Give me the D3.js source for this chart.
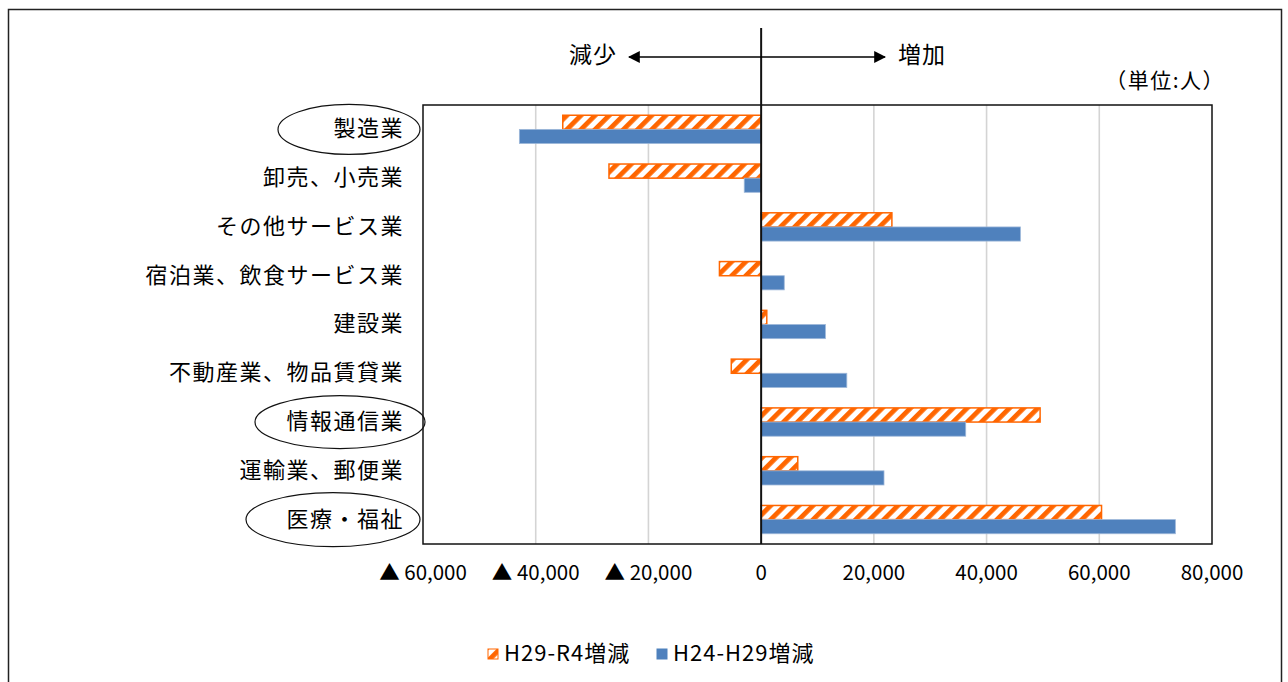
<!DOCTYPE html>
<html>
<head>
<meta charset="utf-8">
<script src="https://cdn.jsdelivr.net/npm/d3@7"></script>
<style>
  html, body { margin: 0; padding: 0; background: #fff; }
  svg { display: block; }
  text { font-family: "Noto Sans CJK JP", "Noto Sans", sans-serif; fill: #000; }
</style>
</head>
<body>
<svg id="chart" width="1288" height="682"></svg>
<script>
// Industries (top to bottom)
const categories = [
  "製造業",
  "卸売、小売業",
  "その他サービス業",
  "宿泊業、飲食サービス業",
  "建設業",
  "不動産業、物品賃貸業",
  "情報通信業",
  "運輸業、郵便業",
  "医療・福祉"
];
// Change in number of employees (persons)
const seriesNames = ["H29-R4増減", "H24-H29増減"];
const changeH29R4 = [-35200, -27000, 23200, -7400, 1000, -5300, 49500, 6500, 60400];
const changeH24H29 = [-42900, -3000, 46000, 4100, 11400, 15200, 36300, 21800, 73500];
const tickValues = [-60000, -40000, -20000, 0, 20000, 40000, 60000, 80000];
// Industries circled for emphasis
const highlighted = ["製造業", "情報通信業", "医療・福祉"];

const orange = "#FF6600";
const blue = "#4F81BD";

const svg = d3.select("#chart");
const plot = { left: 423, right: 1212, top: 105, bottom: 544 };

const x = d3.scaleLinear().domain([-60000, 80000]).range([plot.left, plot.right]);
const y = d3.scaleBand().domain(categories).range([plot.top, plot.bottom])
  .paddingInner(0.42).paddingOuter(0.21);
const ySub = d3.scaleBand().domain(seriesNames).range([0, y.bandwidth()]);

// Hatch pattern for the H29-R4 series
const defs = svg.append("defs");
const pat = defs.append("pattern")
  .attr("id", "hatch")
  .attr("patternUnits", "userSpaceOnUse")
  .attr("width", 10).attr("height", 10)
  .attr("patternTransform", "rotate(45)");
pat.append("rect").attr("width", 10).attr("height", 10).attr("fill", "#fff");
pat.append("rect").attr("width", 4.8).attr("height", 10).attr("fill", orange);

// Outer frame (left, top, right)
svg.append("path")
  .attr("d", "M8.5,682 V9.5 H1281.5 V682")
  .attr("fill", "none").attr("stroke", "#222").attr("stroke-width", 1.5);

// Vertical gridlines
svg.append("g").selectAll("line")
  .data(tickValues.filter(v => v !== 0 && v !== -60000 && v !== 80000))
  .join("line")
  .attr("x1", d => x(d)).attr("x2", d => x(d))
  .attr("y1", plot.top).attr("y2", plot.bottom)
  .attr("stroke", "#d4d4d4").attr("stroke-width", 1.6);

// Plot area border
svg.append("rect")
  .attr("x", plot.left).attr("y", plot.top)
  .attr("width", plot.right - plot.left).attr("height", plot.bottom - plot.top)
  .attr("fill", "none").attr("stroke", "#111").attr("stroke-width", 1.5);

// Bars
const rows = categories.map((c, i) => ({ c, vals: [changeH29R4[i], changeH24H29[i]] }));
const g = svg.append("g");
rows.forEach(r => {
  r.vals.forEach((v, j) => {
    const name = seriesNames[j];
    const x0 = x(Math.min(0, v)), x1 = x(Math.max(0, v));
    const rect = g.append("rect")
      .attr("x", x0).attr("y", y(r.c) + ySub(name))
      .attr("width", x1 - x0).attr("height", ySub.bandwidth());
    if (j === 0) {
      rect.attr("fill", "url(#hatch)").attr("stroke", orange).attr("stroke-width", 1.5);
    } else {
      rect.attr("fill", blue).attr("stroke", "#9db7d9").attr("stroke-width", 0.8);
    }
  });
});

// Zero line, extended above the plot
svg.append("line")
  .attr("x1", x(0)).attr("x2", x(0))
  .attr("y1", 28).attr("y2", plot.bottom)
  .attr("stroke", "#111").attr("stroke-width", 2);

// Axis tick labels
const fmt = d3.format(",");
svg.append("g").selectAll("text")
  .data(tickValues)
  .join("text")
  .attr("x", d => x(d)).attr("y", 574)
  .attr("text-anchor", "middle").attr("dominant-baseline", "middle")
  .attr("font-size", 20.5)
  .text(d => d < 0 ? "▲ " + fmt(-d) : fmt(d));

// Category labels
svg.append("g").selectAll("text")
  .data(categories)
  .join("text")
  .attr("x", 404).attr("y", d => y(d) + y.bandwidth() / 2 + 1)
  .attr("text-anchor", "end").attr("dominant-baseline", "middle")
  .attr("font-size", 22).attr("letter-spacing", 1.5)
  .text(d => d);

// Emphasis ellipses
const ellipseSize = { "製造業": [349, 71, 25], "情報通信業": [340, 85, 26.5], "医療・福祉": [333, 87, 27] };
svg.append("g").selectAll("ellipse")
  .data(highlighted)
  .join("ellipse")
  .attr("cx", d => ellipseSize[d][0])
  .attr("cy", d => y(d) + y.bandwidth() / 2)
  .attr("rx", d => ellipseSize[d][1])
  .attr("ry", d => ellipseSize[d][2])
  .attr("fill", "none").attr("stroke", "#111").attr("stroke-width", 1.2);

// Direction arrow
const arrowY = 57;
defs.append("marker").attr("id", "head")
  .attr("viewBox", "0 0 10 10").attr("refX", 9).attr("refY", 5)
  .attr("markerWidth", 12).attr("markerHeight", 12).attr("markerUnits", "userSpaceOnUse")
  .attr("orient", "auto-start-reverse")
  .append("path").attr("d", "M0,0 L10,5 L0,10 Z").attr("fill", "#000");
svg.append("line")
  .attr("x1", 629).attr("x2", 885).attr("y1", arrowY).attr("y2", arrowY)
  .attr("stroke", "#000").attr("stroke-width", 1.6)
  .attr("marker-start", "url(#head)").attr("marker-end", "url(#head)");
svg.append("text").attr("x", 617).attr("y", arrowY).attr("text-anchor", "end")
  .attr("dominant-baseline", "middle").attr("font-size", 23).attr("letter-spacing", 1)
  .text("減少");
svg.append("text").attr("x", 898).attr("y", arrowY).attr("text-anchor", "start")
  .attr("dominant-baseline", "middle").attr("font-size", 23).attr("letter-spacing", 1)
  .text("増加");
svg.append("text").attr("x", 1225).attr("y", 82).attr("text-anchor", "end")
  .attr("dominant-baseline", "middle").attr("font-size", 21).attr("letter-spacing", 1.5)
  .text("（単位:人）");

// Legend
const legend = svg.append("g");
const legendItems = [
  { name: seriesNames[0], x: 488, fill: "url(#hatch)", stroke: orange },
  { name: seriesNames[1], x: 657, fill: blue, stroke: blue }
];
legendItems.forEach(it => {
  legend.append("rect").attr("x", it.x).attr("y", 649).attr("width", 10).attr("height", 10)
    .attr("fill", it.fill).attr("stroke", it.stroke).attr("stroke-width", 1);
  legend.append("text").attr("x", it.x + 16).attr("y", 655)
    .attr("dominant-baseline", "middle").attr("font-size", 22).attr("letter-spacing", 1)
    .text(it.name);
});
</script>
</body>
</html>
